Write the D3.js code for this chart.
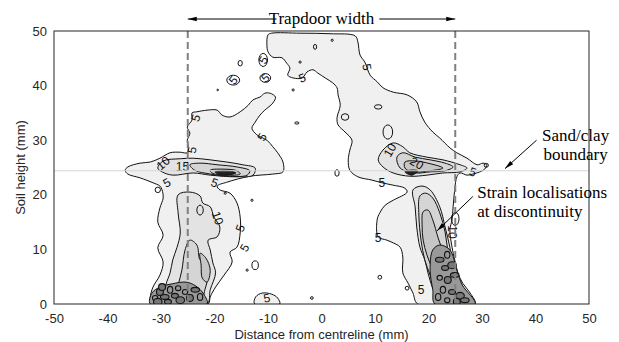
<!DOCTYPE html>
<html>
<head>
<meta charset="utf-8">
<script src="https://cdn.jsdelivr.net/npm/d3@7/dist/d3.min.js"></script>
<style>
  body { margin: 0; background: #fff; }
</style>
</head>
<body>
<div id="chart"></div>
<script>
// axis ticks
const xTicks = [-50, -40, -30, -20, -10, 0, 10, 20, 30, 40, 50];
const yTicks = [0, 10, 20, 30, 40, 50];

// trapdoor edges and the sand/clay boundary (mm)
const trapdoorEdges = [-25, 25];
const boundaryHeight = 24.4;

// strain contour outlines, [x mm, y mm]
const leftBand5 = [[-31.7,0],[-32.0,1.1],[-31.5,3.1],[-30.2,5.3],[-29.6,7.7],[-30.6,10.3],[-29.6,12.6],[-30.6,15.0],[-30.2,17.6],[-29.6,19.4],[-29.8,20.9],[-30.2,21.6],[-31.5,22.2],[-33.9,23.1],[-36.2,23.8],[-36.7,24.5],[-36.2,25.1],[-33.9,25.8],[-32.0,26.0],[-30.2,26.7],[-28.3,27.7],[-26.4,27.8],[-25.1,27.7],[-24.9,28.8],[-25.1,30.0],[-24.6,31.3],[-25.1,32.4],[-24.2,33.7],[-24.2,35.0],[-23.3,35.2],[-21.4,35.5],[-19.5,35.5],[-18.6,34.6],[-17.1,34.25],[-15.2,35.2],[-13.7,36.4],[-12.8,37.4],[-11.5,37.9],[-10.6,38.6],[-9.6,38.6],[-8.6,37.9],[-9.1,36.8],[-10.6,35.5],[-11.5,34.6],[-12.4,33.3],[-13.0,32.2],[-12.1,31.0],[-10.2,30.0],[-9.1,28.8],[-8.2,27.7],[-7.2,26.0],[-7.2,24.2],[-9.1,23.8],[-13.4,23.4],[-17.7,22.3],[-19.5,21.6],[-19.0,20.9],[-17.1,20.3],[-15.8,18.5],[-15.2,15.9],[-15.2,13.0],[-15.8,10.4],[-17.1,9.5],[-16.7,7.7],[-18.2,5.3],[-19.8,3.1],[-20.8,1.3],[-21.2,0]];
const archBand5 = [[-10.0,49.3],[-9.3,49.6],[-4.0,49.6],[1.6,49.5],[6.3,49.1],[6.8,48.0],[7.2,45.6],[8.1,44.3],[9.1,41.9],[10.4,40.7],[11.5,39.6],[13.4,38.8],[16.0,38.3],[17.8,37.0],[18.4,35.2],[19.3,33.3],[20.8,31.5],[22.1,30.4],[24.0,28.6],[25.3,27.7],[27.2,26.7],[29.1,25.5],[30.2,25.8],[30.9,25.5],[30.5,24.7],[29.6,24.2],[28.3,23.8],[27.2,23.6],[25.9,24.0],[25.3,23.3],[24.9,20.9],[24.6,17.8],[24.4,15.4],[24.0,13.6],[24.4,10.4],[24.9,8.1],[25.5,5.7],[26.4,3.8],[27.8,2.0],[28.7,0],[18.0,0],[17.1,2.0],[16.2,3.8],[15.2,5.7],[15.2,8.6],[14.7,10.4],[13.4,11.2],[12.2,11.7],[10.6,12.3],[10.4,15.4],[10.9,16.7],[11.9,18.1],[13.4,19.0],[16.0,20.5],[15.6,21.2],[13.2,21.8],[11.3,22.2],[9.4,22.7],[6.8,23.3],[5.3,24.5],[5.0,26.4],[5.3,28.2],[5.7,30.0],[4.4,31.5],[3.1,32.8],[2.9,34.1],[3.5,36.4],[3.1,38.3],[2.9,39.6],[2.1,40.5],[0.7,41.4],[-0.7,42.3],[-1.6,42.9],[-2.7,42.5],[-3.6,41.4],[-5.3,41.4],[-6.3,41.9],[-5.9,43.2],[-6.5,44.1],[-7.4,45.1],[-9.1,45.2],[-10.0,46.2],[-10.2,47.4]];
const baseBlob5 = [[-12.5,0],[-12.3,1.3],[-11.1,2.0],[-9.3,1.8],[-8.2,1.1],[-7.8,0]];

const leftShelf10 = [[-30.6,24.9],[-29.6,26.2],[-26.4,26.6],[-24.0,26.7],[-20.8,26.4],[-17.7,26.0],[-14.7,25.5],[-12.4,24.9],[-12.8,23.6],[-15.8,23.3],[-20.8,23.6],[-24.0,24.0],[-27.8,23.6],[-29.8,24.2]];
const leftLeg10 = [[-26.8,20.0],[-26.8,16.7],[-26.4,13.0],[-27.0,10.4],[-27.8,8.1],[-28.3,5.7],[-29.1,3.5],[-29.6,0],[-21.4,0],[-20.8,2.6],[-19.8,5.7],[-20.3,7.5],[-20.8,9.9],[-21.2,11.7],[-19.5,12.3],[-19.0,14.1],[-20.1,15.9],[-20.8,17.8],[-22.2,18.5],[-22.7,19.8],[-24.6,20.5]];
const rightShelf10 = [[10.6,26.4],[11.5,28.2],[13.4,29.5],[15.2,28.8],[16.5,27.7],[19.7,26.9],[22.7,26.4],[25.9,25.5],[27.2,24.9],[25.9,24.2],[22.7,24.0],[19.7,23.6],[16.5,23.4],[13.4,24.0],[11.5,25.1]];
const rightLeg10 = [[17.1,20.9],[17.5,17.8],[17.8,14.1],[18.4,10.4],[19.3,8.1],[19.9,5.7],[20.7,3.1],[21.6,1.3],[22.1,0],[26.8,0],[25.5,3.8],[24.6,6.8],[24.0,10.4],[23.1,14.1],[22.1,17.8],[20.3,20.9],[18.8,21.6]];

const leftShelf15 = [[-24.6,25.5],[-22.7,25.8],[-19.5,25.5],[-15.8,25.1],[-13.4,24.4],[-13.9,23.6],[-17.7,23.4],[-20.8,23.8],[-23.7,24.5]];
const leftLeg15 = [[-25.5,9.9],[-24.6,11.7],[-23.3,10.8],[-22.7,8.1],[-21.8,7.7],[-21.2,5.3],[-21.8,2.6],[-22.7,0],[-27.9,0],[-26.8,3.5],[-26.1,6.2]];
const rightShelf15 = [[14.1,26.9],[15.2,27.7],[17.5,26.9],[20.3,26.4],[23.1,25.8],[24.6,25.1],[23.1,24.4],[20.3,24.2],[17.5,24.0],[14.7,24.9]];
const rightLeg15 = [[18.4,19.8],[19.5,20.3],[20.8,19.4],[22.1,16.7],[23.1,13.2],[23.6,9.9],[24.4,7.1],[24.9,4.4],[25.9,0],[22.7,0],[21.2,2.6],[20.3,5.3],[19.3,8.1],[18.6,11.7],[18.2,16.3]];

const leftShelf20 = [[-20.8,24.5],[-18.6,24.7],[-15.8,24.4],[-15.2,23.8],[-18.0,23.6],[-20.5,24.0]];
const leftSpike20 = [[-22.7,9.3],[-21.6,8.4],[-20.8,6.2],[-21.4,4.0],[-22.3,4.8],[-22.5,7.1]];
const rightShelf20 = [[15.6,26.0],[17.5,26.2],[20.3,25.7],[22.7,24.9],[20.3,24.4],[16.9,24.2],[15.6,24.9]];
const rightLeg20 = [[19.0,16.9],[19.9,17.2],[20.8,15.4],[21.8,12.1],[22.7,9.5],[23.5,6.2],[24.0,2.6],[22.1,2.6],[20.8,6.2],[19.7,9.0],[19.0,11.7],[18.8,14.5]];

const leftShelfCore = [[-19.9,24.2],[-17.5,24.4],[-16.0,24.0],[-18.6,23.6]];
const rightShelfCore = [[15.6,24.2],[16.5,24.5],[18.0,24.4],[16.9,23.6]];

// dense zones at the base of the two shear bands
const leftBase = [[-32.0,0],[-31.7,2.0],[-30.2,3.1],[-27.9,3.7],[-25.3,4.0],[-23.5,3.3],[-22.0,1.8],[-21.4,0]];
const rightBase = [[20.8,9.9],[22.1,10.8],[24.0,9.9],[25.3,6.2],[26.3,3.5],[28.7,0],[21.2,0],[20.8,2.6],[20.3,6.2]];
const leftBaseLoops = [[-31.1,1.1],[-30.2,2.2],[-29.3,1.3],[-28.3,2.6],[-27.4,1.5],[-26.4,0.7],[-25.5,2.2],[-24.6,1.1],[-23.6,2.6],[-22.7,1.3],[-28.7,0.4],[-30.6,0.4],[-26.8,2.9],[-29.8,3.1]];
const rightBaseLoops = [[22.1,8.1],[23.5,9.0],[23.1,6.6],[24.4,7.1],[22.1,4.8],[23.6,4.4],[24.9,5.3],[22.7,2.6],[24.4,2.2],[25.9,1.5],[23.5,0.7],[25.3,0.4],[26.8,0.7],[21.8,1.3]];

// small closed contours: [x, y, rx, ry] in mm
const islands = [[-1.2,47.1,0.3,0.45],[2.0,48.3,0.2,0.2],[10.6,36.1,0.7,0.4],[4.4,34.25,0.7,0.6],[12.4,31.5,0.9,1.3],[-15.2,44.1,0.4,0.5],[-19.4,39.2,0.15,0.15],[-5.3,39.2,0.2,0.2],[-4.6,33.15,0.4,0.2],[-4.0,44.3,0.2,0.2],[2.9,24.0,0.4,0.6],[-1.8,1.1,0.25,0.25],[10.9,4.9,0.35,0.35],[16.0,2.9,0.35,0.35],[-18.0,20.3,0.2,0.2],[-13.0,19.0,0.2,0.2],[-12.4,7.1,0.6,0.8],[-13.9,6.2,0.2,0.2],[-30.6,20.9,0.5,0.5],[-22.7,17.2,0.6,0.9],[-10.9,44.7,0.8,1.2],[-10.5,41.4,1.0,0.8],[-16.5,41.0,1.2,0.9],[30.8,25.4,0.4,0.35],[25.0,15.6,0.7,1.2]];

// contour labels: [x, y, text, angle]
const contourLabels = [[-23.5,34.1,"5",-70],[-24.2,28.2,"5",-80],[-29.6,25.8,"10",-40],[-26.0,25.1,"15",0],[-28.9,22.2,"5",-30],[-20.0,22.2,"5",20],[-19.4,15.75,"10",70],[-15.2,13.9,"5",-70],[-14.4,10.3,"5",-60],[-10.2,1.1,"5",-10],[-10.9,44.7,"5",-60],[-10.5,41.4,"5",-40],[-16.5,41.0,"5",-50],[-3.6,41.4,"5",-20],[8.5,43.4,"5",80],[-11.1,30.6,"5",-60],[12.8,28.2,"10",-60],[17.8,25.8,"20",30],[28.3,24.2,"5",20],[11.3,22.2,"5",0],[10.6,12.1,"5",0],[24.4,13.2,"10",90],[18.6,2.6,"5",0]];

const level5 = [leftBand5, archBand5, baseBlob5];
const level10 = [leftShelf10, leftLeg10, rightShelf10, rightLeg10];
const level15 = [leftShelf15, leftLeg15, rightShelf15, rightLeg15];
const level20 = [leftShelf20, leftSpike20, rightShelf20, rightLeg20];
const cores = [leftShelfCore, rightShelfCore];

const sans = "'Liberation Sans', Arial, sans-serif";
const serif = "'Liberation Serif', 'Times New Roman', serif";

const W = 619, H = 342;
const margin = { left: 54, top: 31, right: 30, bottom: 38 };
const width = W - margin.left - margin.right;
const height = H - margin.top - margin.bottom;

const svg = d3.select("#chart").append("svg")
    .attr("width", W).attr("height", H)
    .attr("viewBox", [0, 0, W, H]);
const defs = svg.append("defs");

const g = svg.append("g")
    .attr("transform", `translate(${margin.left}, ${margin.top})`);

const x = d3.scaleLinear().domain([-50, 50]).range([0, width]);
const y = d3.scaleLinear().domain([0, 50]).range([height, 0]);

defs.append("clipPath").attr("id", "plotclip")
    .append("rect").attr("width", width).attr("height", height);

const plot = g.append("g").attr("clip-path", "url(#plotclip)");

const outline = d3.line()
    .x(d => x(d[0])).y(d => y(d[1]))
    .curve(d3.curveCatmullRomClosed.alpha(0.5));

function drawLevel(shapes, fill) {
    plot.append("g").selectAll("path").data(shapes).enter().append("path")
        .attr("d", outline)
        .attr("fill", fill)
        .attr("stroke", "#111")
        .attr("stroke-width", 1);
}
drawLevel(level5, "#f0f0f0");
drawLevel(level10, "#e3e3e3");
drawLevel(level15, "#d5d5d5");
drawLevel(level20, "#c6c6c6");
drawLevel([leftBase, rightBase], "#999");
drawLevel(cores, "#222");

// tangled contours in the dense zones
plot.append("g").selectAll("ellipse")
    .data(leftBaseLoops.concat(rightBaseLoops)).enter().append("ellipse")
    .attr("cx", d => x(d[0])).attr("cy", d => y(d[1]))
    .attr("rx", (d, i) => x(0.5) - x(0) + (i % 3) * 0.8)
    .attr("ry", (d, i) => y(0) - y(0.45) + (i % 2))
    .attr("fill", (d, i) => i % 3 ? "#777" : "none")
    .attr("stroke", "#111").attr("stroke-width", 1.1);

plot.append("g").selectAll("ellipse")
    .data(islands).enter().append("ellipse")
    .attr("cx", d => x(d[0])).attr("cy", d => y(d[1]))
    .attr("rx", d => x(d[2]) - x(0))
    .attr("ry", d => y(0) - y(d[3]))
    .attr("fill", "none")
    .attr("stroke", "#111").attr("stroke-width", 1);

plot.append("g").selectAll("text")
    .data(contourLabels).enter().append("text")
    .attr("transform", d => `translate(${x(d[0])},${y(d[1])}) rotate(${d[3]})`)
    .attr("text-anchor", "middle")
    .attr("dy", "0.35em")
    .style("font-family", sans)
    .style("font-size", "12px")
    .attr("fill", "#111")
    .text(d => d[2]);

// sand/clay boundary
g.append("line")
    .attr("x1", 0).attr("x2", width)
    .attr("y1", y(boundaryHeight)).attr("y2", y(boundaryHeight))
    .attr("stroke", "#d6d6d6").attr("stroke-width", 1);

// trapdoor edges
g.selectAll(".edge").data(trapdoorEdges).enter().append("line")
    .attr("class", "edge")
    .attr("x1", d => x(d)).attr("x2", d => x(d))
    .attr("y1", 0).attr("y2", height)
    .attr("stroke", "#808080").attr("stroke-width", 2)
    .attr("stroke-dasharray", "7,4");

// axes
const xAxis = g.append("g").attr("transform", `translate(0, ${height})`)
    .call(d3.axisBottom(x).tickValues(xTicks).tickFormat(d => String(d))
        .tickSize(0).tickPadding(10));
const yAxis = g.append("g")
    .call(d3.axisLeft(y).tickValues(yTicks).tickFormat(d => String(d))
        .tickSize(0).tickPadding(7));
[xAxis, yAxis].forEach(a => {
    a.select(".domain").remove();
    a.selectAll("text").attr("fill", "#262626")
        .style("font-size", "13px").style("font-family", sans);
});

g.append("rect").attr("width", width).attr("height", height)
    .attr("fill", "none").attr("stroke", "#262626").attr("stroke-width", 1);

svg.append("text")
    .attr("x", margin.left + x(0)).attr("y", 339)
    .attr("text-anchor", "middle").attr("fill", "#262626")
    .style("font-size", "13px").style("font-family", sans)
    .text("Distance from centreline (mm)");
svg.append("text")
    .attr("transform", `translate(25, ${margin.top + height / 2}) rotate(-90)`)
    .attr("text-anchor", "middle").attr("fill", "#262626")
    .style("font-size", "13px").style("font-family", sans)
    .text("Soil height (mm)");

// annotations
defs.append("marker").attr("id", "head")
    .attr("viewBox", "0 0 10 10").attr("refX", 10).attr("refY", 5)
    .attr("markerWidth", 9).attr("markerHeight", 9).attr("orient", "auto")
    .attr("markerUnits", "userSpaceOnUse")
    .append("path").attr("d", "M0,2.5 L10,5 L0,7.5 Z").attr("fill", "#000");

const ann = svg.append("g").attr("transform", `translate(${margin.left}, ${margin.top})`);
const arrowY = -12;
ann.append("line")
    .attr("x1", x(-8.4)).attr("x2", x(trapdoorEdges[0]))
    .attr("y1", arrowY).attr("y2", arrowY)
    .attr("stroke", "#000").attr("stroke-width", 1)
    .attr("marker-end", "url(#head)");
ann.append("line")
    .attr("x1", x(10.8)).attr("x2", x(trapdoorEdges[1]))
    .attr("y1", arrowY).attr("y2", arrowY)
    .attr("stroke", "#000").attr("stroke-width", 1)
    .attr("marker-end", "url(#head)");
ann.append("text")
    .attr("x", x(0)).attr("y", arrowY + 5)
    .attr("text-anchor", "middle")
    .style("font-family", serif).style("font-size", "17px")
    .text("Trapdoor width");

ann.append("line")
    .attr("x1", x(40.2)).attr("y1", y(30.0))
    .attr("x2", x(34.3)).attr("y2", y(24.8))
    .attr("stroke", "#000").attr("stroke-width", 1)
    .attr("marker-end", "url(#head)");
[["Sand/clay", 29.85], ["boundary", 26.35]].forEach(([t, v]) => {
    ann.append("text")
        .attr("x", x(47.5)).attr("y", y(v))
        .attr("text-anchor", "middle")
        .style("font-family", serif).style("font-size", "17px")
        .text(t);
});

ann.append("line")
    .attr("x1", x(28.3)).attr("y1", y(19.7))
    .attr("x2", x(21.6)).attr("y2", y(13.4))
    .attr("stroke", "#000").attr("stroke-width", 1)
    .attr("marker-end", "url(#head)");
[["Strain localisations", 19.4], ["at discontinuity", 15.9]].forEach(([t, v]) => {
    ann.append("text")
        .attr("x", x(29.1)).attr("y", y(v))
        .style("font-family", serif).style("font-size", "17px")
        .text(t);
});
</script>
</body>
</html>
